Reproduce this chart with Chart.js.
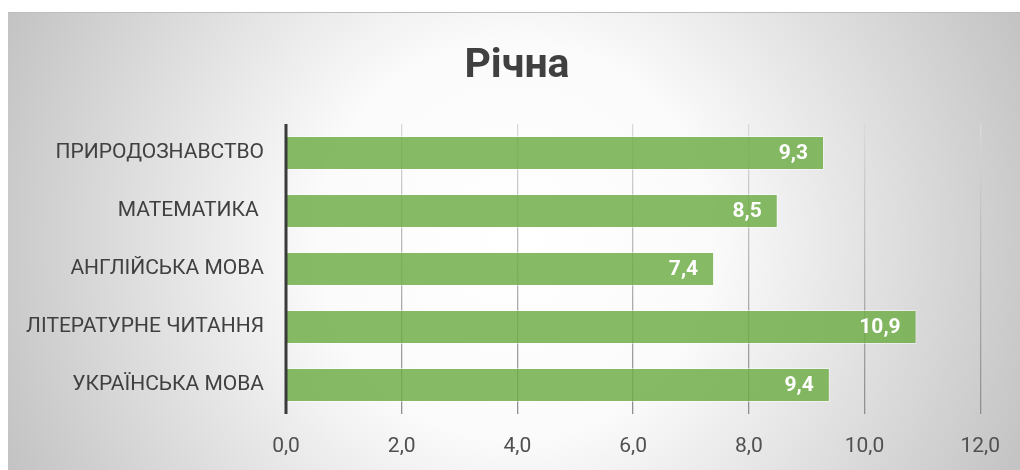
<!DOCTYPE html>
<html>
<head>
<meta charset="utf-8">
<script src="https://cdn.jsdelivr.net/npm/chart.js@4/dist/chart.umd.min.js"></script>
<style>
html,body{margin:0;padding:0;background:#fff;}
#wrap{width:1020px;height:470px;position:relative;}
</style>
</head>
<body>
<div id="wrap"><canvas id="c" width="1020" height="470"></canvas></div>
<script>
const categories = ["ПРИРОДОЗНАВСТВО", "МАТЕМАТИКА ", "АНГЛІЙСЬКА МОВА", "ЛІТЕРАТУРНЕ ЧИТАННЯ", "УКРАЇНСЬКА МОВА"];
const values = [9.3, 8.5, 7.4, 10.9, 9.4];
const xTicks = [0, 2, 4, 6, 8, 10, 12];
const chartTitle = "Річна";

const FONT = "Roboto, 'Open Sans', 'Noto Sans', sans-serif";

const bgPlugin = {
  id: 'bg',
  beforeDraw(chart) {
    const ctx = chart.ctx;
    const x0 = 8, y0 = 12, x1 = 1020, y1 = 470;
    const cx = 514, cy = 240;
    const g = ctx.createRadialGradient(cx, cy, 0, cx, cy, 560);
    g.addColorStop(0, '#ffffff');
    g.addColorStop(0.35, '#fbfbfb');
    g.addColorStop(1, '#c2c2c2');
    ctx.save();
    ctx.fillStyle = g;
    ctx.fillRect(x0, y0, x1 - x0, y1 - y0);
    ctx.strokeStyle = '#bdbdbd';
    ctx.lineWidth = 1;
    ctx.beginPath();
    ctx.moveTo(x0, y0 + 0.5); ctx.lineTo(x1, y0 + 0.5);
    ctx.stroke();
    ctx.restore();
  }
};

const titlePlugin = {
  id: 'ttl',
  afterDraw(chart) {
    const ctx = chart.ctx;
    ctx.save();
    ctx.font = "bold 41px " + FONT;
    ctx.fillStyle = '#404040';
    ctx.textAlign = 'center';
    ctx.textBaseline = 'alphabetic';
    ctx.fillText(chartTitle, 517, 77);
    ctx.restore();
  }
};

const labelPlugin = {
  id: 'vlabels',
  afterDatasetsDraw(chart) {
    const ctx = chart.ctx;
    const meta = chart.getDatasetMeta(0);
    ctx.save();
    ctx.font = "bold 21px " + FONT;
    ctx.fillStyle = '#ffffff';
    ctx.textAlign = 'right';
    ctx.textBaseline = 'middle';
    meta.data.forEach((bar, i) => {
      const txt = values[i].toFixed(1).replace('.', ',');
      ctx.fillText(txt, bar.x - 16, bar.y + 1);
    });
    ctx.restore();
  }
};

const axisLinePlugin = {
  id: 'axisline',
  afterDatasetsDraw(chart) {
    const ctx = chart.ctx;
    const a = chart.chartArea;
    const x = chart.scales.x.getPixelForValue(0);
    ctx.save();
    ctx.strokeStyle = '#3a3a3a';
    ctx.lineWidth = 3;
    ctx.beginPath();
    ctx.moveTo(x, a.top);
    ctx.lineTo(x, a.bottom);
    ctx.stroke();
    ctx.restore();
  }
};

const ctx = document.getElementById('c').getContext('2d');
new Chart(ctx, {
  type: 'bar',
  data: {
    labels: categories,
    datasets: [{
      data: values,
      backgroundColor: 'rgba(112,173,71,0.84)',
      borderColor: 'rgba(255,255,255,0.45)',
      borderWidth: 1,
      barPercentage: 0.59,
      categoryPercentage: 1.0
    }]
  },
  options: {
    indexAxis: 'y',
    responsive: false,
    animation: false,
    devicePixelRatio: 1,
    layout: { padding: { left: 0, right: 38, top: 124, bottom: 0 } },
    plugins: {
      legend: { display: false },
      tooltip: { enabled: false },
      title: { display: false }
    },
    scales: {
      x: {
        min: 0, max: 12,
        afterBuildTicks(s) { s.ticks = xTicks.map(v => ({ value: v })); },
        afterFit(s) { s.height = 56; },
        border: { display: false },
        grid: {
          drawTicks: false,
          lineWidth: 1.3,
          color(c) {
            const a = c.chart.chartArea;
            if (!a) return '#d0d0d0';
            const g = c.chart.ctx.createLinearGradient(0, a.top, 0, a.bottom);
            g.addColorStop(0, '#dadada');
            g.addColorStop(1, '#8e8e8e');
            return g;
          }
        },
        ticks: {
          padding: 20,
          color: '#505050',
          font: { family: FONT, size: 21 },
          callback: v => Number(v).toFixed(1).replace('.', ',')
        }
      },
      y: {
        afterFit(s) { s.width = 286; },
        border: { display: false },
        grid: { display: false, drawTicks: false },
        ticks: {
          padding: 22,
          color: '#404040',
          font: { family: FONT, size: 21 }
        }
      }
    }
  },
  plugins: [bgPlugin, labelPlugin, axisLinePlugin, titlePlugin]
});
</script>
</body>
</html>
